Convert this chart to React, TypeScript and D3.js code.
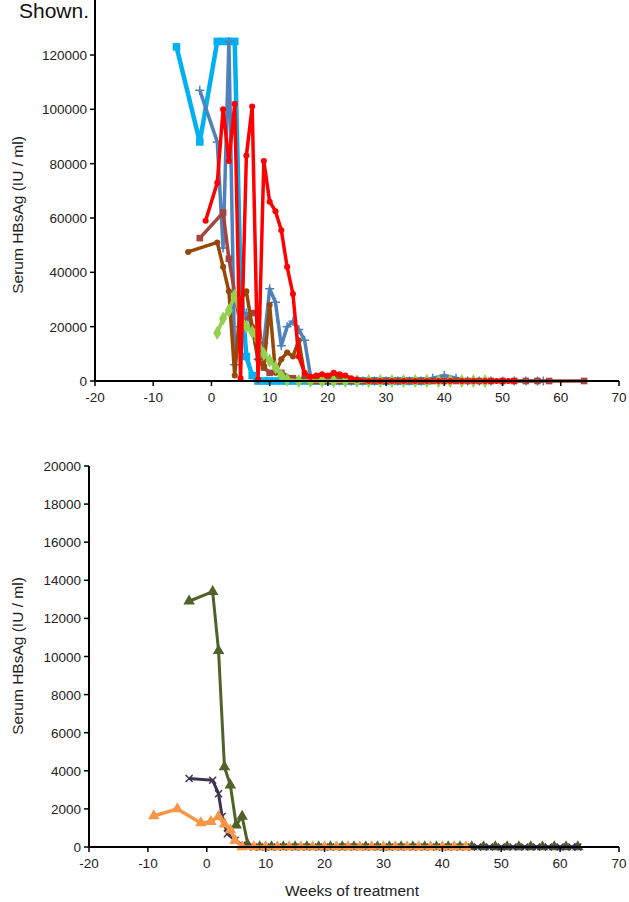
import * as d3 from 'd3'
import React from 'react'

// ---- top panel data (weeks, IU/ml) ----
const lightBlueWeeks = [-6, -2, 1, 2, 3, 4, 5, 6, 7, 8, 9, 10, 11, 12, 13, 14, 15, 16, 17, 18, 19, 20, 21, 22, 23, 24, 25, 26, 27, 28, 29, 30, 31, 32, 33, 34, 35, 36, 37]
const lightBlueVals = [123000, 88000, 125000, 125000, 125000, 125000, 37000, 9000, 2000, 0, 0, 0, 0, 0, 0, 0, 0, 0, 0, 0, 0, 0, 0, 0, 0, 0, 0, 0, 0, 0, 0, 0, 0, 0, 0, 0, 0, 0, 0]

const steelWeeks = [-2, 1, 2, 3, 4, 5, 6, 7, 8, 9, 10, 11, 12, 13, 14, 15, 16, 17, 18, 20, 22, 24, 26, 28, 30, 32, 34, 36, 38, 40, 42, 44, 46, 48, 50, 52, 54, 56, 57]
const steelVals = [107000, 88000, 49000, 125000, 6000, 20000, 25000, 20000, 8000, 14000, 34000, 29000, 13000, 20000, 22000, 19000, 15000, 2000, 500, 0, 0, 0, 0, 0, 0, 0, 0, 0, 1000, 2000, 1000, 0, 0, 0, 0, 0, 0, 0, 0]

const darkRedWeeks = [-2, 2, 3, 5, 7, 8, 9, 10, 12, 14, 16, 18, 20, 22, 24, 26, 28, 30, 32, 34, 36, 38, 40, 42, 44, 46, 48, 50, 52, 54, 56, 58, 64]
const darkRedVals = [52600, 62000, 45000, 20000, 25000, 25000, 5000, 3000, 3000, 1000, 500, 0, 0, 0, 0, 0, 0, 0, 0, 0, 0, 0, 0, 0, 0, 0, 0, 0, 0, 0, 0, 0, 0]

const brownWeeks = [-4, 1, 2, 3, 4, 5, 6, 7, 8, 9, 10, 11, 12, 13, 14, 15, 16, 17, 18, 20, 22, 23, 24, 25]
const brownVals = [47500, 51000, 42000, 33000, 2000, 30000, 33000, 20000, 8000, 5000, 28000, 3000, 8000, 10500, 9000, 15000, 2000, 1500, 1500, 1800, 2000, 1500, 500, 0]

const greenWeeks = [1, 2, 3, 4, 5, 6, 7, 8, 9, 10, 11, 12, 13, 15, 17, 19, 21, 23, 25, 27, 29, 31, 33, 35, 37, 39, 41, 43, 45, 47]
const greenVals = [17700, 23000, 26000, 31500, 24000, 20000, 18000, 15000, 10000, 7500, 5000, 2000, 500, 0, 0, 0, 0, 0, 0, 0, 0, 0, 0, 0, 0, 0, 0, 0, 0, 0]

const redWeeks = [-1, 1, 2, 3, 4, 5, 6, 7, 8, 9, 10, 11, 12, 13, 14, 15, 16, 17, 18, 19, 20, 21, 22, 23, 24, 25, 27, 29, 31, 33, 35, 37, 39, 41, 43, 45, 47, 48, 49, 50, 51, 52]
const redVals = [59000, 73000, 100000, 81000, 102000, 1000, 83000, 101000, 500, 81000, 66000, 62500, 55500, 42000, 32000, 9000, 3000, 1500, 2000, 2500, 2000, 3000, 2500, 2000, 1000, 500, 0, 0, 0, 0, 0, 0, 0, 0, 0, 0, 0, 0, 0, 0, 0, 0]

// ---- bottom panel data ----
const oliveWeeks = [-3, 1, 2, 3, 4, 5, 6, 7, 9, 11, 13, 15, 17, 19, 21, 23, 25, 27, 29, 31, 33, 35, 37, 39, 41, 43, 45, 47, 49, 51, 53, 55, 57, 59, 61, 63]
const oliveVals = [12900, 13400, 10300, 4200, 3250, 1150, 1600, 100, 0, 0, 0, 0, 0, 0, 0, 0, 0, 0, 0, 0, 0, 0, 0, 0, 0, 0, 0, 0, 0, 0, 0, 0, 0, 0, 0, 0]

const purpleWeeks = [-3, 1, 2, 2.6, 3.5, 4.8, 6, 8, 10, 12, 14, 16, 18, 20, 22, 24, 26, 28, 30, 32, 34, 36, 38, 40, 42, 44, 46, 48, 50, 52, 54, 56, 58, 60, 62, 63]
const purpleVals = [3600, 3500, 2800, 1600, 700, 350, 100, 0, 0, 0, 0, 0, 0, 0, 0, 0, 0, 0, 0, 0, 0, 0, 0, 0, 0, 0, 0, 0, 0, 0, 0, 0, 0, 0, 0, 0]

const orangeWeeks = [-9, -5, -1, 0.7, 2, 3, 4, 4.8, 6, 8, 10, 12, 14, 16, 18, 20, 22, 24, 26, 28, 30, 32, 34, 36, 38, 40, 42, 44]
const orangeVals = [1630, 2000, 1260, 1330, 1600, 1200, 900, 350, 0, 0, 0, 0, 0, 0, 0, 0, 0, 0, 0, 0, 0, 0, 0, 0, 0, 0, 0, 0]

const xTicks = [-20, -10, 0, 10, 20, 30, 40, 50, 60, 70]
const topYTicks = [0, 20000, 40000, 60000, 80000, 100000, 120000]
const bottomYTicks = [0, 2000, 4000, 6000, 8000, 10000, 12000, 14000, 16000, 18000, 20000]

const FONT = 'Liberation Sans, Arial, sans-serif'

type Series = { weeks: number[]; vals: number[]; color: string; marker: string; width: number; size: number }

const topSeries: Series[] = [
  { weeks: lightBlueWeeks, vals: lightBlueVals, color: '#00B0F0', marker: 'square', width: 4.5, size: 8 },
  { weeks: steelWeeks, vals: steelVals, color: '#4F81BD', marker: 'plus', width: 3.5, size: 9 },
  { weeks: darkRedWeeks, vals: darkRedVals, color: '#A5443F', marker: 'square', width: 3.5, size: 7 },
  { weeks: brownWeeks, vals: brownVals, color: '#974806', marker: 'circle', width: 3.5, size: 6 },
  { weeks: greenWeeks, vals: greenVals, color: '#92D050', marker: 'diamond', width: 3.5, size: 8 },
  { weeks: redWeeks, vals: redVals, color: '#FF0000', marker: 'circle', width: 3.5, size: 6 },
]

const bottomSeries: Series[] = [
  { weeks: oliveWeeks, vals: oliveVals, color: '#4F6228', marker: 'triangle', width: 3, size: 8 },
  { weeks: purpleWeeks, vals: purpleVals, color: '#403152', marker: 'x', width: 3, size: 7 },
  { weeks: orangeWeeks, vals: orangeVals, color: '#F79646', marker: 'triangle', width: 3.5, size: 8 },
]

function Marker({ x, y, kind, color, size }: { x: number; y: number; kind: string; color: string; size: number }) {
  const h = size / 2
  if (kind === 'plus') {
    return <path d={`M${x - h},${y}H${x + h}M${x},${y - h}V${y + h}`} stroke={color} strokeWidth={1.5} />
  }
  if (kind === 'x') {
    return <path d={`M${x - h},${y - h}L${x + h},${y + h}M${x - h},${y + h}L${x + h},${y - h}`} stroke={color} strokeWidth={1.5} />
  }
  const type =
    kind === 'square' ? d3.symbolSquare :
    kind === 'diamond' ? d3.symbolDiamond :
    kind === 'triangle' ? d3.symbolTriangle : d3.symbolCircle
  const path = d3.symbol().type(type).size(size * size * (kind === 'circle' ? 0.8 : 0.9))()
  return <path d={path || ''} transform={`translate(${x},${y})`} fill={color} />
}

function Panel({ series, xRange, yRange, yDomain, yTicks, axisTop, labelY }: {
  series: Series[]; xRange: [number, number]; yRange: [number, number]; yDomain: [number, number]; yTicks: number[]; axisTop: number; labelY: number
}) {
  const x = d3.scaleLinear().domain([-20, 70]).range(xRange)
  const y = d3.scaleLinear().domain(yDomain).range(yRange)
  const y0 = y(0)
  return (
    <g>
      {series.map((s, i) => {
        const pts = s.weeks.map((w, j) => [x(w), y(s.vals[j])] as [number, number])
        const d = d3.line()(pts) || ''
        return (
          <g key={i}>
            <path d={d} fill="none" stroke={s.color} strokeWidth={s.width} strokeLinejoin="round" />
            {pts.map((p, j) => (
              <Marker key={j} x={p[0]} y={p[1]} kind={s.marker} color={s.color} size={s.size} />
            ))}
          </g>
        )
      })}
      {/* axes */}
      <line x1={xRange[0]} x2={xRange[1]} y1={y0} y2={y0} stroke="#000" strokeWidth={2} />
      <line x1={xRange[0]} x2={xRange[0]} y1={axisTop} y2={y0} stroke="#000" strokeWidth={2} />
      {xTicks.map((t) => (
        <g key={t}>
          <line x1={x(t)} x2={x(t)} y1={y0} y2={y0 + 5} stroke="#000" strokeWidth={1.5} />
          <text x={x(t)} y={y0 + 21} fontSize={13.5} fontFamily={FONT} textAnchor="middle" fill="#222">{t}</text>
        </g>
      ))}
      {yTicks.map((t) => (
        <g key={t}>
          <line x1={xRange[0] - 5} x2={xRange[0]} y1={y(t)} y2={y(t)} stroke="#000" strokeWidth={1.5} />
          <text x={xRange[0] - 8} y={y(t) + 5} fontSize={13.5} fontFamily={FONT} textAnchor="end" fill="#222">{t}</text>
        </g>
      ))}
      <text transform={`translate(23,${labelY}) rotate(-90)`} fontSize={15.5} fontFamily={FONT} textAnchor="middle" fill="#222">
        Serum HBsAg (IU / ml)
      </text>
    </g>
  )
}

export default function App() {
  return (
    <svg width={629} height={902} style={{ position: 'absolute', left: 0, top: 0, background: '#fff' }}>
      <Panel series={topSeries} xRange={[95, 619]} yRange={[381, 55]} yDomain={[0, 120000]} yTicks={topYTicks} axisTop={0} labelY={215} />
      <Panel series={bottomSeries} xRange={[89, 619]} yRange={[847, 466]} yDomain={[0, 20000]} yTicks={bottomYTicks} axisTop={466} labelY={656} />
      <text x={19} y={18} fontSize={21} fontFamily={FONT} fill="#111">Shown.</text>
      <text x={352} y={896} fontSize={15.5} fontFamily={FONT} textAnchor="middle" fill="#222">Weeks of treatment</text>
    </svg>
  )
}
